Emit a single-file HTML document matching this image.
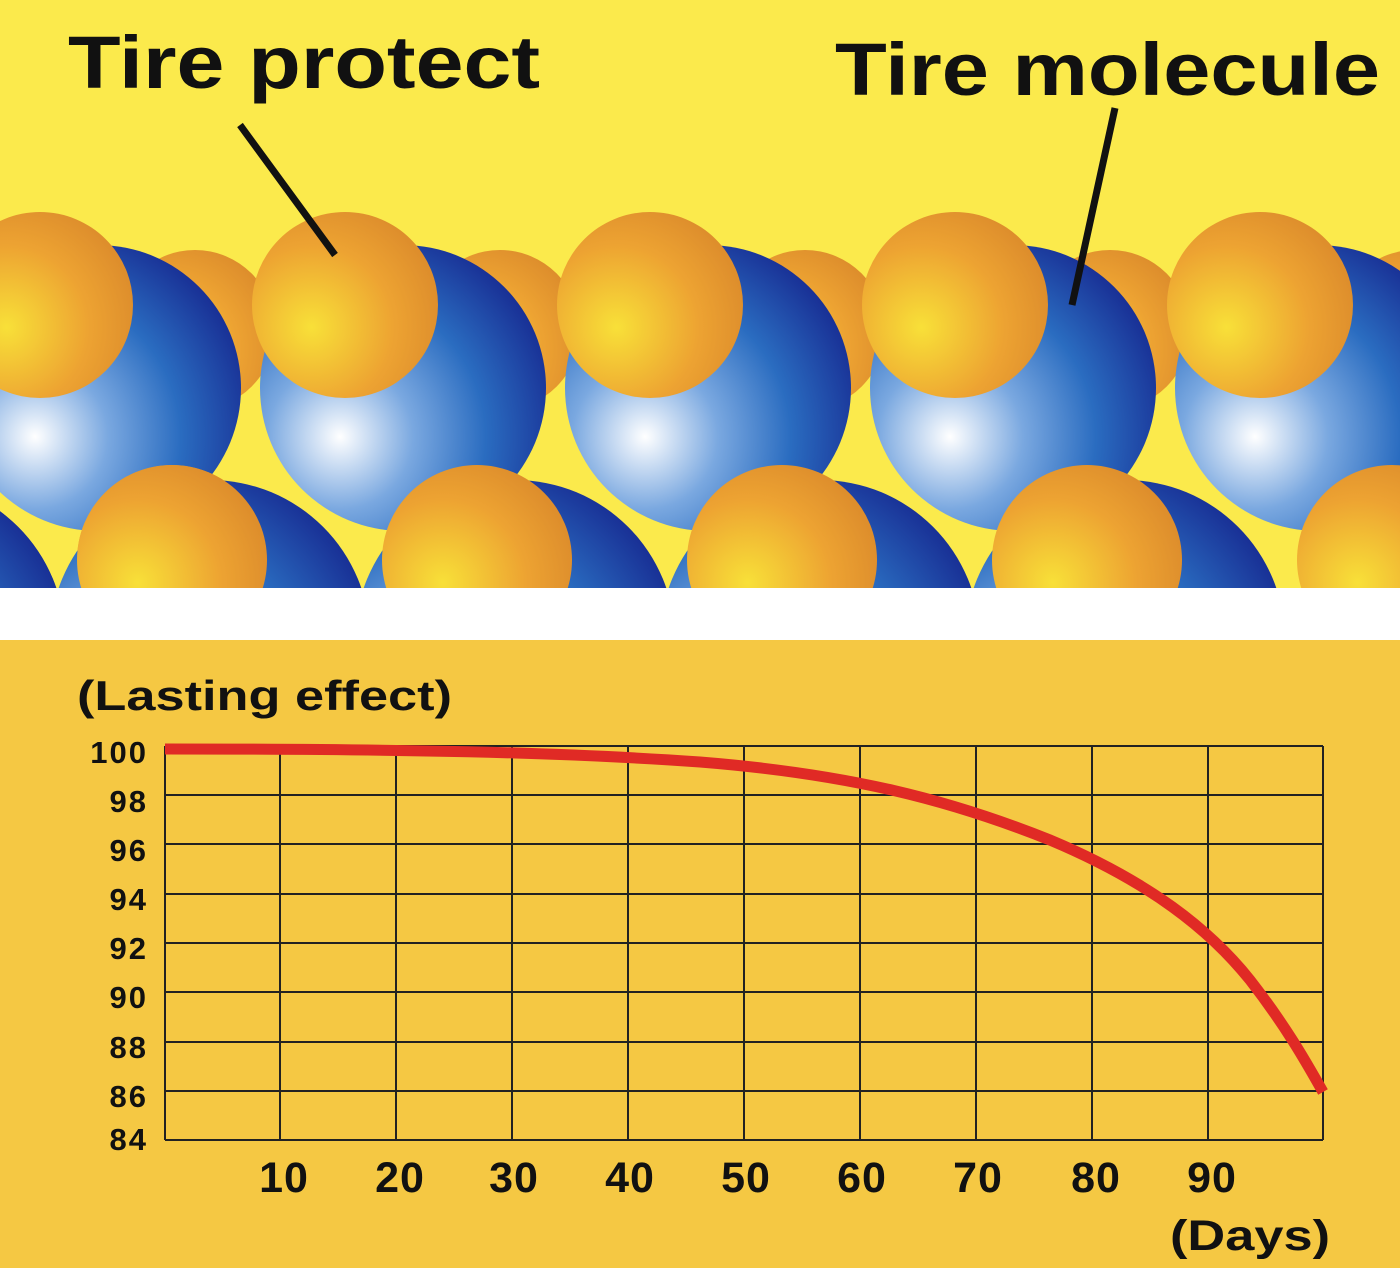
<!DOCTYPE html>
<html><head><meta charset="utf-8"><style>
body{margin:0;width:1400px;height:1268px;overflow:hidden;background:#fff}
</style></head><body>
<svg width="1400" height="1268" viewBox="0 0 1400 1268" xmlns="http://www.w3.org/2000/svg" font-family="Liberation Sans, sans-serif" font-weight="bold">
<defs>
<radialGradient id="bl" cx="0.28" cy="0.67" r="0.85" fx="0.28" fy="0.67">
<stop offset="0" stop-color="#ffffff"/><stop offset="0.3" stop-color="#7aa8e0"/><stop offset="0.6" stop-color="#2a6cc0"/><stop offset="1" stop-color="#14208a"/></radialGradient>
<radialGradient id="or" cx="0.32" cy="0.62" r="0.8">
<stop offset="0" stop-color="#f8e038"/><stop offset="0.55" stop-color="#eda332"/><stop offset="1" stop-color="#d8862a"/></radialGradient>
<clipPath id="top"><rect x="0" y="0" width="1400" height="588"/></clipPath>
</defs>
<rect x="0" y="0" width="1400" height="588" fill="#fbea4c"/>
<rect x="0" y="640" width="1400" height="628" fill="#f5c843"/>
<g clip-path="url(#top)">
<g id="u">
<circle cx="195" cy="330" r="80" fill="url(#or)"/>
<circle cx="98" cy="388" r="143" fill="url(#bl)"/>
<circle cx="40" cy="305" r="93" fill="url(#or)"/>
</g>
<use href="#u" x="305"/><use href="#u" x="610"/><use href="#u" x="915"/><use href="#u" x="1220"/>
<g id="l">
<circle cx="-95" cy="640" r="160" fill="url(#bl)"/>
<circle cx="172" cy="560" r="95" fill="url(#or)"/>
</g>
<circle cx="210" cy="640" r="160" fill="url(#bl)"/>
<circle cx="515" cy="640" r="160" fill="url(#bl)"/>
<circle cx="820" cy="640" r="160" fill="url(#bl)"/>
<circle cx="1125" cy="640" r="160" fill="url(#bl)"/>
<circle cx="-95" cy="640" r="160" fill="url(#bl)"/>
<circle cx="172" cy="560" r="95" fill="url(#or)"/>
<circle cx="477" cy="560" r="95" fill="url(#or)"/>
<circle cx="782" cy="560" r="95" fill="url(#or)"/>
<circle cx="1087" cy="560" r="95" fill="url(#or)"/>
<circle cx="1392" cy="560" r="95" fill="url(#or)"/>
</g>
<line x1="240" y1="125" x2="335" y2="255" stroke="#111" stroke-width="7"/>
<line x1="1115" y1="108" x2="1072" y2="305" stroke="#111" stroke-width="7"/>
<text x="68" y="88" font-size="74" fill="#111" textLength="472" lengthAdjust="spacingAndGlyphs">Tire protect</text>
<text x="835" y="95" font-size="74" fill="#111" textLength="545" lengthAdjust="spacingAndGlyphs">Tire molecule</text>
<text x="77" y="710" font-size="42" fill="#111" textLength="375" lengthAdjust="spacingAndGlyphs">(Lasting effect)</text>
<g stroke="#222" stroke-width="2">
<line x1="165" y1="746" x2="1323" y2="746"/><line x1="165" y1="795" x2="1323" y2="795"/><line x1="165" y1="844" x2="1323" y2="844"/><line x1="165" y1="894" x2="1323" y2="894"/><line x1="165" y1="943" x2="1323" y2="943"/><line x1="165" y1="992" x2="1323" y2="992"/><line x1="165" y1="1042" x2="1323" y2="1042"/><line x1="165" y1="1091" x2="1323" y2="1091"/><line x1="165" y1="1140" x2="1323" y2="1140"/>
<line x1="165" y1="746" x2="165" y2="1140"/><line x1="280" y1="746" x2="280" y2="1140"/><line x1="396" y1="746" x2="396" y2="1140"/><line x1="512" y1="746" x2="512" y2="1140"/><line x1="628" y1="746" x2="628" y2="1140"/><line x1="744" y1="746" x2="744" y2="1140"/><line x1="860" y1="746" x2="860" y2="1140"/><line x1="976" y1="746" x2="976" y2="1140"/><line x1="1092" y1="746" x2="1092" y2="1140"/><line x1="1208" y1="746" x2="1208" y2="1140"/><line x1="1323" y1="746" x2="1323" y2="1140"/>
</g>
<g font-size="31" fill="#111" text-anchor="end" letter-spacing="2">
<text x="148" y="763">100</text><text x="148" y="812">98</text><text x="148" y="861">96</text><text x="148" y="910">94</text><text x="148" y="959">92</text><text x="148" y="1008">90</text><text x="148" y="1058">88</text><text x="148" y="1107">86</text><text x="148" y="1150">84</text>
</g>
<g font-size="43" fill="#111" text-anchor="middle" letter-spacing="1">
<text x="284" y="1192">10</text><text x="400" y="1192">20</text><text x="514" y="1192">30</text><text x="630" y="1192">40</text><text x="746" y="1192">50</text><text x="862" y="1192">60</text><text x="978" y="1192">70</text><text x="1096" y="1192">80</text><text x="1212" y="1192">90</text>
</g>
<text x="1170" y="1250" font-size="43" fill="#111" textLength="160" lengthAdjust="spacingAndGlyphs">(Days)</text>
<path d="M165,749 C400,749 560,752 700,762 C850,774 950,800 1050,840 C1150,882 1210,930 1250,980 C1285,1025 1305,1060 1323,1092" fill="none" stroke="#e02a25" stroke-width="11"/>
</svg>
</body></html>
